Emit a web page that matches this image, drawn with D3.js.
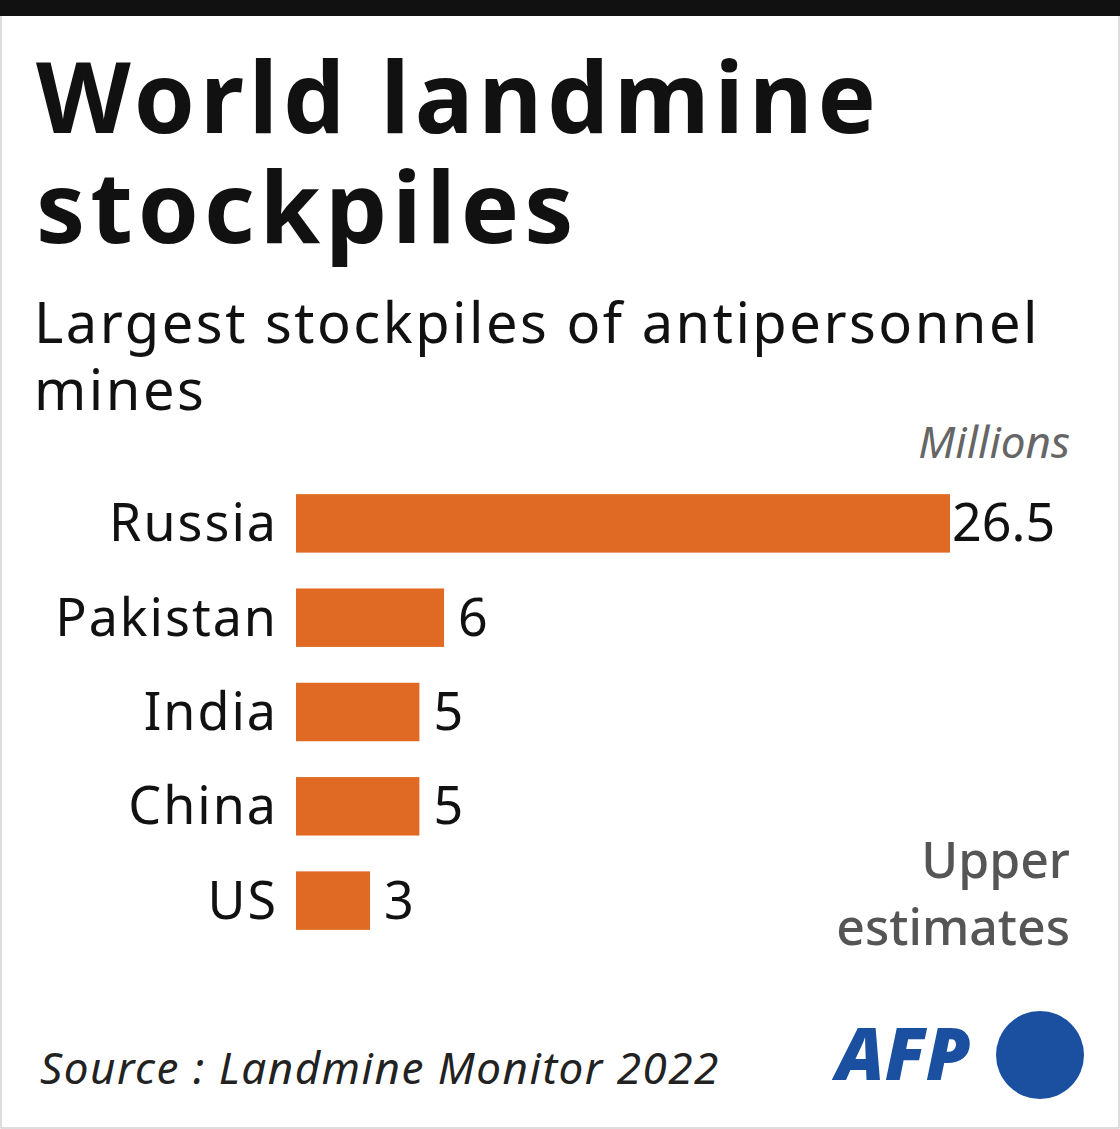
<!DOCTYPE html><html><head><meta charset="utf-8">
<script src="https://cdn.jsdelivr.net/npm/d3@7"></script>
<style>body{margin:0;background:#fff}</style></head><body>
<script>
const countries=["Russia","Pakistan","India","China","US"];
const values=[26.5,6,5,5,3];
const valueLabels=["26.5","6","5","5","3"];
const W=1120,H=1129,F="'Noto Sans',sans-serif";
const svg=d3.select("body").append("svg").attr("width",W).attr("height",H);
svg.append("rect").attr("x",1).attr("y",1).attr("width",W-2).attr("height",H-2).attr("fill","#fff").attr("stroke","#bbb");
svg.append("rect").attr("x",0).attr("y",0).attr("width",W).attr("height",16).attr("fill","#111");
const t=(x,y,s,txt,o={})=>svg.append("text").attr("x",x).attr("y",y).attr("font-family",F).attr("font-size",s)
 .attr("font-weight",o.w||400).attr("font-style",o.i?"italic":"normal").attr("fill",o.c||"#111").attr("text-anchor",o.a||"start")
 .attr("letter-spacing",o.ls||0).text(txt);
t(36,133,98,"World landmine",{w:700,ls:5});
t(36,243,98,"stockpiles",{w:700,ls:5});
t(34,343,56,"Largest stockpiles of antipersonnel",{ls:2.5});
t(34,410,56,"mines",{ls:2.5});
t(1070,458,44,"Millions",{i:1,c:"#666",a:"end"});
const x=d3.scaleLinear().domain([0,26.5]).range([296,950]);
const y=d3.scaleBand().domain(countries).range([480,944]).paddingInner(0.38).paddingOuter(0.15);
svg.selectAll("rect.bar").data(values).join("rect").attr("class","bar")
 .attr("x",x(0)).attr("y",(d,i)=>y(countries[i])).attr("width",d=>x(d)-x(0)).attr("height",y.bandwidth()).attr("fill","#e06a23");
countries.forEach((c,i)=>{
 const cy=y(c)+y.bandwidth()/2+18;
 t(278,cy,52,c,{a:"end",ls:2});
 t(x(values[i])+(i==0?2:14),cy,52,valueLabels[i]);
});
t(1070,878,50,"Upper",{w:500,c:"#555",a:"end"});
t(1070,945,50,"estimates",{w:500,c:"#555",a:"end"});
t(40,1084,44,"Source : Landmine Monitor 2022",{i:1,c:"#222",ls:1.5});
t(836,1080,72,"AFP",{w:900,i:1,c:"#1b50a0"});
svg.append("circle").attr("cx",1040).attr("cy",1055).attr("r",44).attr("fill","#1b50a0");
</script></body></html>
